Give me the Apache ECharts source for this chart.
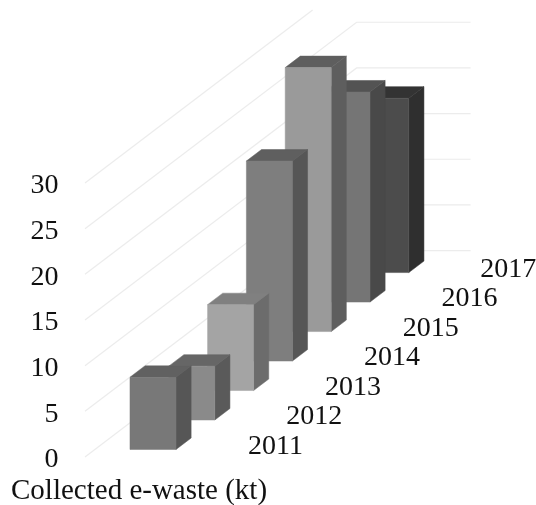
<!DOCTYPE html>
<html>
<head>
<meta charset="utf-8">
<style>
  html, body { margin: 0; padding: 0; background: #fff; }
  #chart { width: 536px; height: 505px; }
</style>
<script src="https://cdn.jsdelivr.net/npm/echarts@6/dist/echarts.min.js"></script>
</head>
<body>
<div id="chart"></div>
<script>
// Collected e-waste per year, in kilotonnes
const years = ['2011', '2012', '2013', '2014', '2015', '2016', '2017'];
const collected = [7.9, 5.9, 9.4, 21.9, 28.9, 23, 19.1];
const yTicks = [0, 5, 10, 15, 20, 25, 30];

// Per-bar shades: front, side and top faces
const frontShades = ['#787878', '#8a8a8a', '#a4a4a4', '#7e7e7e', '#9a9a9a', '#757575', '#4c4c4c'];
const sideShades = ['#565656', '#5a5a5a', '#6c6c6c', '#565656', '#5e5e5e', '#494949', '#2f2f2f'];
const topShades = ['#616161', '#666666', '#808080', '#5f5f5f', '#5e5e5e', '#535353', '#333333'];

// Oblique projection: each category steps back along the floor
const SERIF = '"Liberation Serif", "Times New Roman", serif';
const SLOPE = 0.76;          // vertical rise per horizontal pixel of depth
const FRONT_RATIO = 1.186;   // bar front width, as a share of the category step
const DEPTH_RATIO = 0.39;    // bar depth, as a share of the category step
const FLOOR_INSET = 7.5;     // gap between a category's front edge and its bar
const WALL_LEAD = 68;        // distance from the first bar's centre to the wall's front corner
const BACK_WALL = 114;       // width of the back wall
const TOP_MARGIN = 10;       // wall lines stop short of the top of the page

function project(api, i, v) {
  const p = api.coord([i, v]);
  const step = api.size([1, 0])[0];
  return [p[0], p[1] - i * step * SLOPE];
}

function renderBar(params, api) {
  const i = api.value(0);
  const v = api.value(1);
  const step = api.size([1, 0])[0];
  const half = step * FRONT_RATIO / 2;
  const dx = step * DEPTH_RATIO;
  const dy = dx * SLOPE;
  const base = project(api, i, 0);
  const top = project(api, i, v);
  const l = base[0] - half, r = base[0] + half;
  const y0 = base[1] - FLOOR_INSET, y1 = top[1] - FLOOR_INSET;
  const face = (points, fill) => ({
    type: 'polygon',
    shape: { points },
    style: { fill, stroke: fill, lineWidth: 0.5 }
  });
  return {
    type: 'group',
    children: [
      face([[r, y0], [r + dx, y0 - dy], [r + dx, y1 - dy], [r, y1]], sideShades[i]),
      face([[l, y1], [r, y1], [r + dx, y1 - dy], [l + dx, y1 - dy]], topShades[i]),
      face([[l, y0], [r, y0], [r, y1], [l, y1]], frontShades[i])
    ]
  };
}

function renderWallLine(params, api) {
  const v = api.value(1);
  const step = api.size([1, 0])[0];
  const p = api.coord([0, v]);
  const start = [p[0] - WALL_LEAD, p[1]];
  const corner = [start[0] + years.length * step, start[1] - years.length * step * SLOPE];
  const points = corner[1] >= TOP_MARGIN
    ? [start, corner, [corner[0] + BACK_WALL, corner[1]]]
    : [start, [start[0] + (start[1] - TOP_MARGIN) / SLOPE, TOP_MARGIN]];
  return {
    type: 'polyline',
    shape: { points },
    style: { fill: 'none', stroke: '#ececec', lineWidth: 1.2 }
  };
}

function renderYearLabel(params, api) {
  const i = api.value(0);
  const p = project(api, i, 0);
  return {
    type: 'text',
    x: p[0] + 122.5,
    y: p[1] - 10.5,
    style: {
      text: years[i],
      fill: '#111111',
      font: '28px ' + SERIF,
      align: 'center',
      verticalAlign: 'middle'
    }
  };
}

const chart = echarts.init(document.getElementById('chart'));
chart.setOption({
  animation: false,
  backgroundColor: '#ffffff',
  title: {
    text: 'Collected e-waste (kt)',
    left: 6,
    top: 472,
    textStyle: { fontFamily: SERIF, fontSize: 29, fontWeight: 'normal', color: '#111111' }
  },
  grid: { left: 133.6, top: 183, width: 271.6, height: 274 },
  xAxis: { type: 'category', data: years, show: false },
  yAxis: {
    type: 'value',
    min: yTicks[0],
    max: yTicks[yTicks.length - 1],
    interval: yTicks[1] - yTicks[0],
    axisLine: { show: false },
    axisTick: { show: false },
    splitLine: { show: false },
    axisLabel: {
      margin: 75,
      formatter: '{tick|{value}}',
      rich: {
        tick: { padding: [6, 0, 0, 0], fontFamily: SERIF, fontSize: 28, color: '#111111' }
      }
    }
  },
  series: [
    {
      type: 'custom',
      name: 'Wall lines',
      clip: false,
      silent: true,
      z: 1,
      renderItem: renderWallLine,
      encode: { x: 0, y: 1 },
      data: yTicks.map(t => [0, t])
    },
    {
      type: 'custom',
      name: 'Collected e-waste',
      clip: false,
      z: 2,
      renderItem: renderBar,
      encode: { x: 0, y: 1 },
      // painted back to front so nearer bars cover farther ones
      data: collected.map((v, i) => [i, v]).reverse()
    },
    {
      type: 'custom',
      name: 'Year labels',
      clip: false,
      silent: true,
      z: 3,
      renderItem: renderYearLabel,
      encode: { x: 0, y: 1 },
      data: years.map((y, i) => [i, 0])
    }
  ]
});
</script>
</body>
</html>
